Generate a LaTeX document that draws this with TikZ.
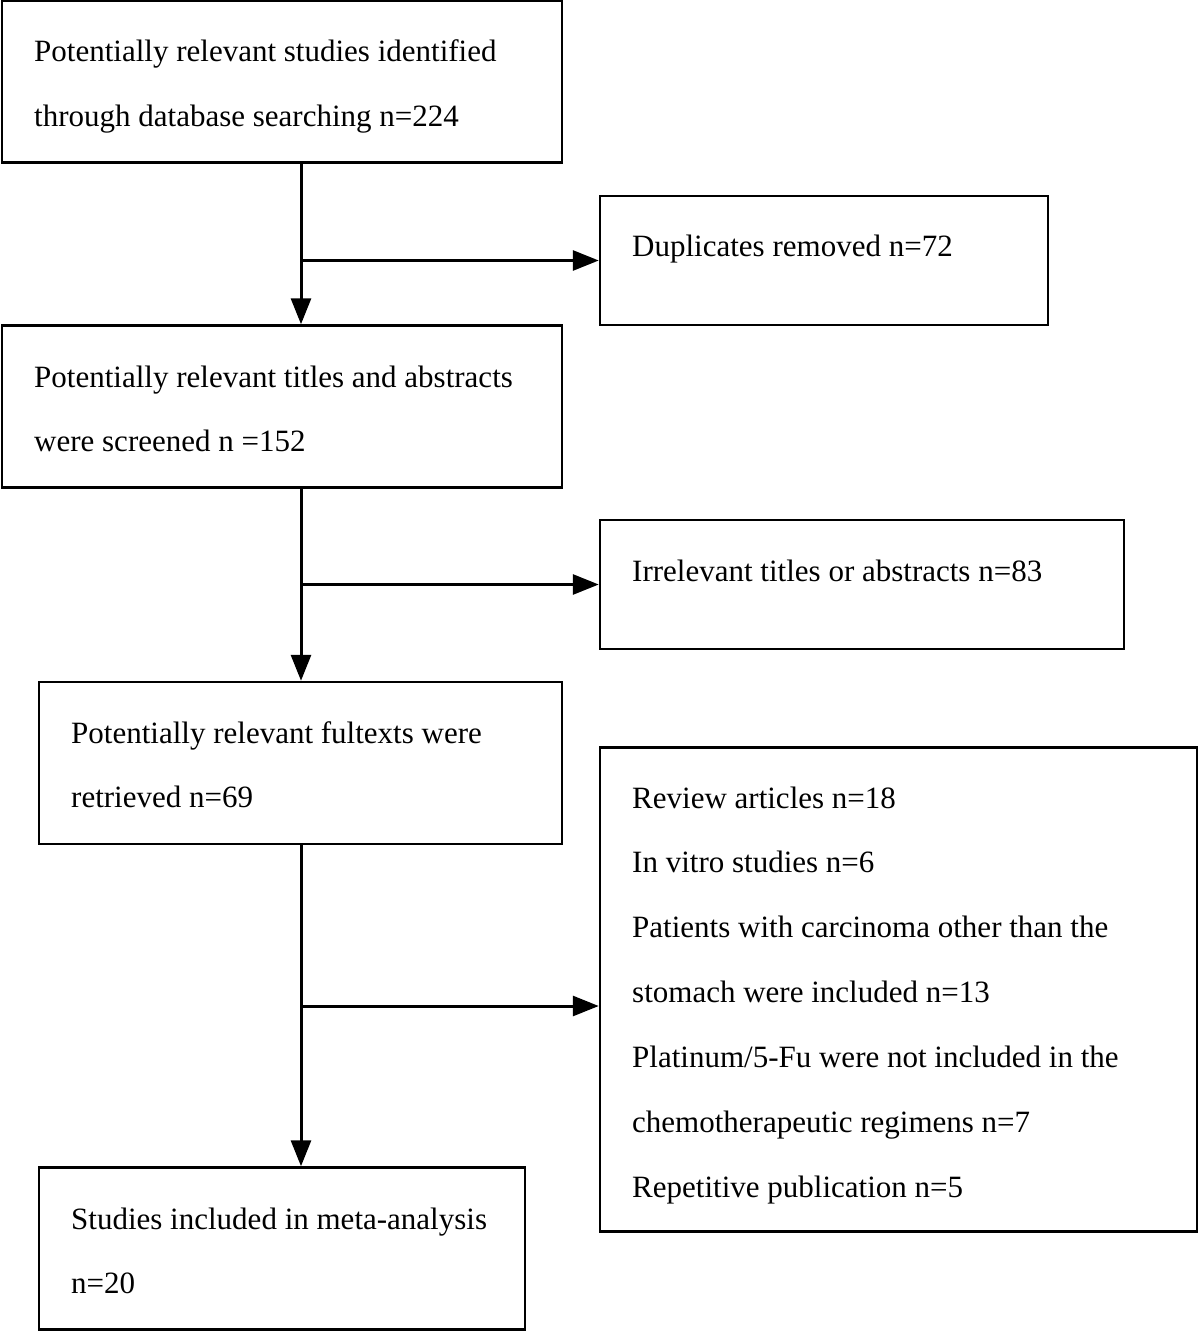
\documentclass[tikz,border=0pt]{standalone}
\usepackage{fontspec}
\setmainfont{Liberation Serif}
\usetikzlibrary{arrows.meta,calc}
\begin{document}
\begin{tikzpicture}[x=1pt,y=-1pt,
  box/.style={draw,line width=2.5pt,inner sep=0pt,rectangle},
  txt/.style={anchor=base west,inner sep=0pt,font=\fontsize{31}{36}\selectfont},
  arr/.style={line width=3pt,-{Triangle[length=26pt,width=20pt]}},
  ln/.style={line width=3pt}]
\useasboundingbox (0,0) rectangle (1200,1332);
\node[box,minimum width=560,minimum height=162] (b1) at (282,81.5) {};
\node[box,minimum width=448,minimum height=129] (b2) at (824,260.5) {};
\node[box,minimum width=560,minimum height=162] (b3) at (282,406.5) {};
\node[box,minimum width=524,minimum height=129] (b4) at (862,584.5) {};
\node[box,minimum width=523,minimum height=162] (b5) at (300.5,763) {};
\node[box,minimum width=597,minimum height=484] (b6) at (898.5,989.5) {};
\node[box,minimum width=486,minimum height=162] (b7) at (282,1248.5) {};
% texts
\node[txt] (t1a) at (34,62) {Potentially relevant studies identified};
\node[txt] (t1b) at (34,127) {through database searching n=224};
\node[txt] (t2a) at (632,256) {Duplicates removed n=72};
\node[txt] (t3a) at (34,387) {Potentially relevant titles and abstracts};
\node[txt] (t3b) at (34,451) {were screened n =152};
\node[txt] (t4a) at (632,581) {Irrelevant titles or abstracts n=83};
\node[txt] (t5a) at (71,743) {Potentially relevant fultexts were};
\node[txt] (t5b) at (71,807) {retrieved n=69};
\node[txt] (t6a) at (632,808) {Review articles n=18};
\node[txt] (t6b) at (632,872) {In vitro studies n=6};
\node[txt] (t6c) at (632,937) {Patients with carcinoma other than the};
\node[txt] (t6d) at (632,1002) {stomach were included n=13};
\node[txt] (t6e) at (632,1067) {Platinum/5-Fu were not included in the};
\node[txt] (t6f) at (632,1132) {chemotherapeutic regimens n=7};
\node[txt] (t6g) at (632,1197) {Repetitive publication n=5};
\node[txt] (t7a) at (71,1229) {Studies included in meta-analysis};
\node[txt] (t7b) at (71,1293) {n=20};
% connectors
\coordinate (axis) at (301,0);
\coordinate (br3) at (301,1006);
\draw[arr] (b1.south -| axis) -- (b3.north -| axis);
\draw[arr] (b2.west -| axis) -- (b2.west);
\draw[arr] (b3.south -| axis) -- (b5.north -| axis);
\draw[arr] (b4.west -| axis) -- (b4.west);
\draw[arr] (b5.south -| axis) -- (b7.north -| axis);
\draw[arr] (br3) -- (br3 -| b6.west);
\end{tikzpicture}
\end{document}
